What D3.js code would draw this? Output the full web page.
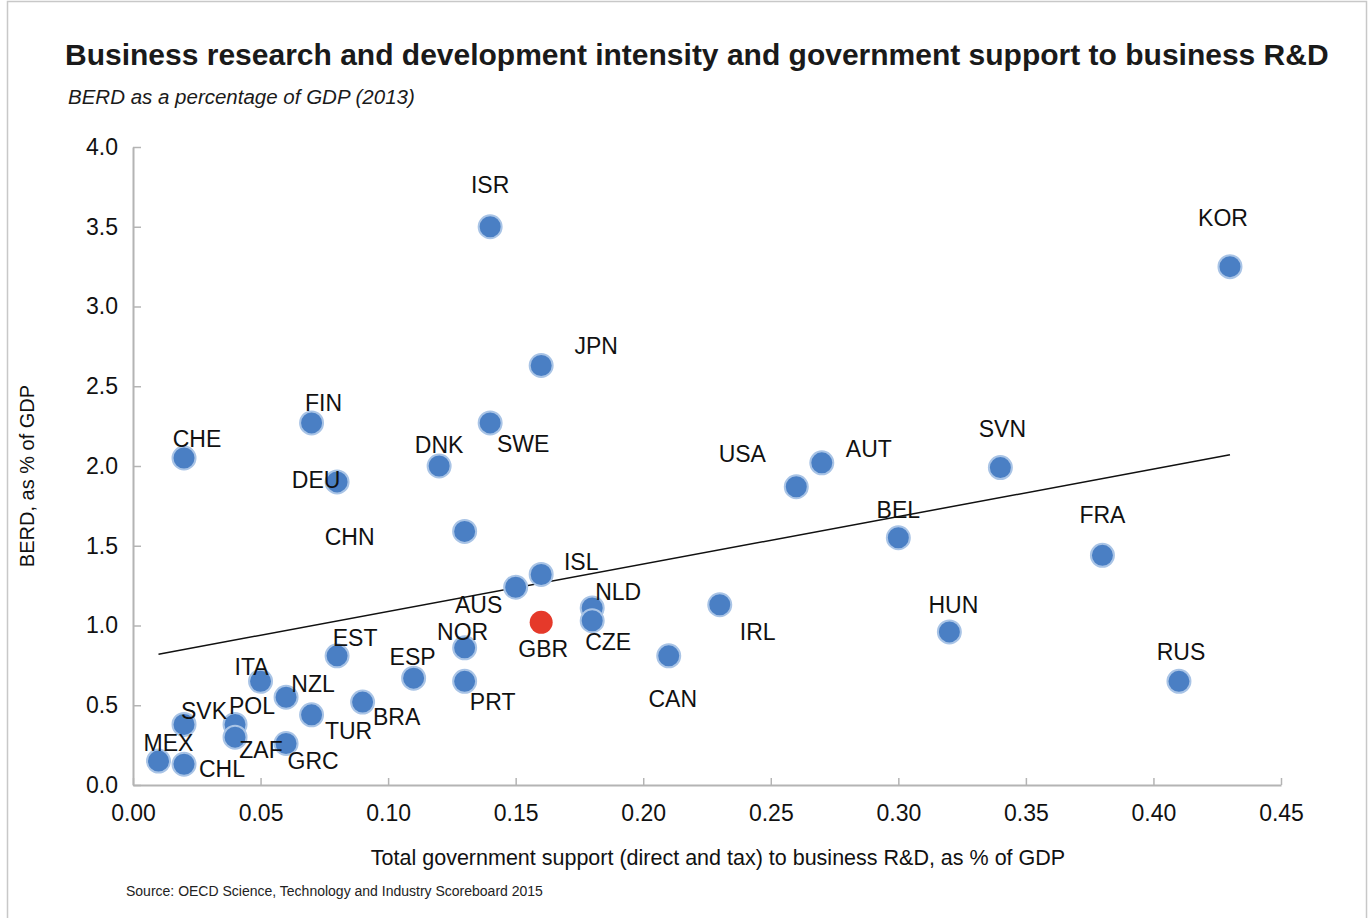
<!DOCTYPE html>
<html>
<head>
<meta charset="utf-8">
<script src="https://cdn.jsdelivr.net/npm/d3@7"></script>
<style>
  body { margin: 0; background: #fff; }
  svg { font-family: "Liberation Sans", Arial, sans-serif; }
</style>
</head>
<body>
<div id="scatter"></div>
<script>
// data
var countries = ["MEX","CHL","SVK","CHE","POL","ZAF","ITA","NZL","GRC","TUR","FIN","EST","DEU","BRA","ESP","DNK","CHN","NOR","PRT","ISR","SWE","AUS","ISL","GBR","JPN","NLD","CZE","CAN","IRL","USA","AUT","BEL","HUN","SVN","FRA","RUS","KOR"];
var govSupport = [0.01,0.02,0.02,0.02,0.04,0.04,0.05,0.06,0.06,0.07,0.07,0.08,0.08,0.09,0.11,0.12,0.13,0.13,0.13,0.14,0.14,0.15,0.16,0.16,0.16,0.18,0.18,0.21,0.23,0.26,0.27,0.30,0.32,0.34,0.38,0.41,0.43];
var berd = [0.15,0.13,0.38,2.05,0.38,0.30,0.65,0.55,0.26,0.44,2.27,0.81,1.90,0.52,0.67,2.00,1.59,0.86,0.65,3.50,2.27,1.24,1.32,1.02,2.63,1.11,1.03,0.81,1.13,1.87,2.02,1.55,0.96,1.99,1.44,0.65,3.25];
var highlight = "GBR";

// trend line end points
var trendX = [0.01, 0.43];
var trendY = [0.82, 2.07];

var xTicks = [0,0.05,0.10,0.15,0.20,0.25,0.30,0.35,0.40,0.45];
var yTicks = [0,0.5,1.0,1.5,2.0,2.5,3.0,3.5,4.0];

// label offsets from the marker centre (layout only)
var labelOffset = {
  MEX:[10,-10], CHL:[38,13], SVK:[20,-5], CHE:[13,-11], POL:[17,-10], ZAF:[26,21],
  ITA:[-9,-6], NZL:[27,-5], GRC:[27,25], TUR:[37,24], FIN:[12,-12], EST:[18,-10],
  DEU:[-21,6], BRA:[34,23], ESP:[-1,-13], DNK:[0,-13], CHN:[-115,14], NOR:[-2,-8],
  PRT:[28,29], ISR:[0,-34], SWE:[33,29], AUS:[-37,26], ISL:[40,-4], GBR:[2,35],
  JPN:[55,-12], NLD:[26,-8], CZE:[16,29], CAN:[4,51], IRL:[38,35], USA:[-54,-25],
  AUT:[47,-6], BEL:[0,-20], HUN:[4,-19], SVN:[2,-31], FRA:[0,-32], RUS:[2,-21], KOR:[-7,-41]
};

var svgWidth = 1370;
var svgHeight = 918;

var margin = { top: 147, right: 89, bottom: 133, left: 133 };
var width = svgWidth - margin.left - margin.right;
var height = svgHeight - margin.top - margin.bottom;

var svg = d3.select("#scatter")
  .append("svg")
  .attr("width", svgWidth)
  .attr("height", svgHeight);

// outer frame
svg.append("rect")
  .attr("x", 7.5).attr("y", 1.5)
  .attr("width", 1359).attr("height", 940)
  .attr("fill", "none")
  .attr("stroke", "#c8c8c8")
  .attr("stroke-width", 1.5);

// titles
svg.append("text")
  .attr("x", 65).attr("y", 65)
  .attr("font-size", 30).attr("font-weight", "bold")
  .attr("fill", "#1a1a1a")
  .text("Business research and development intensity and government support to business R&D");

svg.append("text")
  .attr("x", 68).attr("y", 104)
  .attr("font-size", 20.5).attr("font-style", "italic")
  .attr("fill", "#1a1a1a")
  .text("BERD as a percentage of GDP (2013)");

var chartGroup = svg.append("g")
  .attr("transform", `translate(${margin.left}, ${margin.top})`);

var xLinearScale = d3.scaleLinear().domain([0, 0.45]).range([0, width]);
var yLinearScale = d3.scaleLinear().domain([0, 4]).range([height, 0]);

var xAxis = d3.axisBottom(xLinearScale)
  .tickValues(xTicks).tickFormat(d3.format(".2f"))
  .tickSizeInner(-7).tickSizeOuter(0).tickPadding(20);
var yAxis = d3.axisLeft(yLinearScale)
  .tickValues(yTicks).tickFormat(d3.format(".1f"))
  .tickSizeInner(-8).tickSizeOuter(0).tickPadding(15);

var gx = chartGroup.append("g")
  .attr("transform", `translate(0, ${height})`)
  .call(xAxis);
var gy = chartGroup.append("g").call(yAxis);

[gx, gy].forEach(function(g) {
  g.select(".domain").attr("stroke", "#b4b4b4").attr("stroke-width", 2);
  g.selectAll(".tick line").attr("stroke", "#b4b4b4").attr("stroke-width", 1.5);
  g.selectAll(".tick text")
    .attr("font-size", 23)
    .attr("font-family", "\"Liberation Sans\", Arial, sans-serif")
    .attr("fill", "#111");
});

// axis titles
svg.append("text")
  .attr("x", 718).attr("y", 865)
  .attr("text-anchor", "middle")
  .attr("font-size", 21.5).attr("fill", "#111")
  .text("Total government support (direct and tax) to business R&D, as % of GDP");

svg.append("text")
  .attr("transform", "translate(34, 476) rotate(-90)")
  .attr("text-anchor", "middle")
  .attr("font-size", 20).attr("fill", "#111")
  .text("BERD, as % of GDP");

svg.append("text")
  .attr("x", 126).attr("y", 896)
  .attr("font-size", 14).attr("fill", "#222")
  .text("Source: OECD Science, Technology and Industry Scoreboard 2015");

// trend line
var trend = trendX.map(function(d, i) { return [d, trendY[i]]; });
chartGroup.append("path")
  .datum(trend)
  .attr("fill", "none")
  .attr("stroke", "#111")
  .attr("stroke-width", 1.5)
  .attr("d", d3.line()
    .x(function(d) { return xLinearScale(d[0]); })
    .y(function(d) { return yLinearScale(d[1]); }));

var points = countries.map(function(c, i) {
  return { abbr: c, x: govSupport[i], y: berd[i] };
});

// markers
chartGroup.selectAll("circle")
  .data(points)
  .enter()
  .append("circle")
  .attr("cx", function(d) { return xLinearScale(d.x); })
  .attr("cy", function(d) { return yLinearScale(d.y); })
  .attr("r", 11.5)
  .attr("fill", function(d) { return d.abbr === highlight ? "#e5392a" : "#4a7fc4"; })
  .attr("stroke", function(d) { return d.abbr === highlight ? "none" : "#a9c4e6"; })
  .attr("stroke-width", 2);

// labels
chartGroup.selectAll(".label")
  .data(points)
  .enter()
  .append("text")
  .attr("class", "label")
  .attr("x", function(d) { return xLinearScale(d.x) + labelOffset[d.abbr][0]; })
  .attr("y", function(d) { return yLinearScale(d.y) + labelOffset[d.abbr][1]; })
  .attr("text-anchor", "middle")
  .attr("font-size", 23)
  .attr("fill", "#111")
  .text(function(d) { return d.abbr; });
</script>
</body>
</html>
